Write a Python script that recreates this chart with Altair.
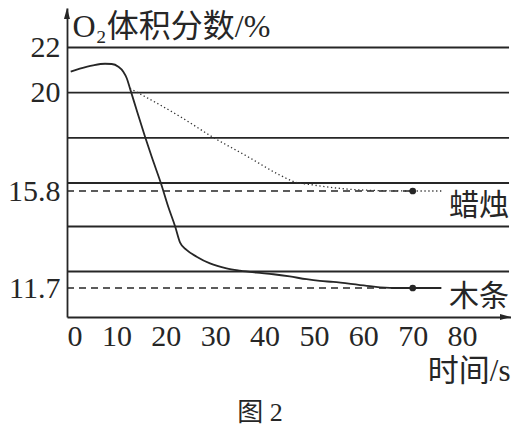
import altair as alt
import pandas as pd

# ---- data ----
wood_t = [0.75, 2.6, 5.3, 7.7, 9.05, 10.4, 11.4, 12.1, 12.75, 14.1, 15.8, 17.15, 19.0, 20.5,
          21.9, 22.9, 24.2, 26.25, 28.95, 32.3, 35.0, 38.4, 41.8, 45.1, 48.5, 51.2, 53.9,
          60.7, 66.1, 70.0, 75.8]
wood_v = [20.93, 21.06, 21.21, 21.28, 21.27, 21.15, 20.93, 20.64, 20.19, 19.23, 18.05, 17.16,
          16.0, 15.0, 14.0, 13.28, 12.96, 12.66, 12.36, 12.14, 12.04, 11.98, 11.95, 11.91,
          11.86, 11.83, 11.81, 11.74, 11.70, 11.70, 11.70]

candle_t = [12.75, 22.9, 29.6, 36.4, 43.1, 45.8, 49.9, 56.6, 63.4, 70.0, 76.1]
candle_v = [20.19, 18.94, 18.02, 17.19, 16.35, 16.07, 15.95, 15.85, 15.81, 15.8, 15.8]

end_names = ["蜡烛", "木条"]
end_t = [70, 70]
end_v = [15.8, 11.7]

grid_values = [12, 14, 16, 18, 20, 22]
y_tick_values = [22, 20, 15.8, 11.7]
x_tick_values = [0, 10, 20, 30, 40, 50, 60, 70, 80]

x_max = 89.9
grid_end = 89.5
y_min = 10
y_top = 23.75

# schematic (not-to-scale) vertical axis, as in the original figure
y_domain = [10, 11.7, 12, 14, 15.8, 16, 22, 23.75]
y_range = [309, 280, 263.5, 218.5, 183, 175, 39.5, 0]

INK = "#262626"
SERIF = "Liberation Serif"
MIXED = "Liberation Serif, Noto Sans CJK SC"
CJK = "Noto Sans CJK SC"

W, H = 444, 309

xs = alt.Scale(domain=[0, x_max], nice=False, zero=False)
ys = alt.Scale(domain=y_domain, range=y_range, nice=False, zero=False)

wood_df = pd.DataFrame({"t": wood_t, "v": wood_v})
candle_df = pd.DataFrame({"t": candle_t, "v": candle_v})
end_df = pd.DataFrame({"name": end_names, "t": end_t, "v": end_v})
grid_df = pd.DataFrame({"v": grid_values, "x0": [0] * len(grid_values),
                        "x1": [grid_end] * len(grid_values)})
dash_df = pd.DataFrame({"v": end_v, "x0": [0, 0], "x1": end_t})
label_df = pd.DataFrame({"name": end_names, "t": [grid_end, grid_end], "v": end_v})

x_axis = alt.Axis(values=x_tick_values, format="d", ticks=False, grid=False,
                  domainColor=INK, domainWidth=1.8,
                  labelFont=SERIF, labelFontSize=30, labelColor=INK, labelPadding=4,
                  title="时间/s", titleFont=MIXED, titleFontSize=31, titleFontWeight="normal",
                  titleColor=INK, titleAnchor="end", titleAlign="right", titleX=W - 1,
                  titleY=54, titleBaseline="middle")
y_axis = alt.Axis(values=y_tick_values, format=".3~g", ticks=False, grid=False,
                  domainColor=INK, domainWidth=1.8,
                  labelFont=SERIF, labelFontSize=30, labelColor=INK, labelPadding=7,
                  title="O₂体积分数/%", titleFont=MIXED, titleFontSize=32,
                  titleFontWeight="normal", titleColor=INK, titleAngle=0,
                  titleAlign="left", titleBaseline="middle", titleX=5, titleY=18)

grid = alt.Chart(grid_df).mark_rule(color=INK, strokeWidth=1.8).encode(
    x=alt.X("x0:Q", scale=xs, axis=x_axis), x2="x1:Q",
    y=alt.Y("v:Q", scale=ys, axis=y_axis))

dashes = alt.Chart(dash_df).mark_rule(color=INK, strokeWidth=1.6, strokeDash=[7, 5]).encode(
    x=alt.X("x0:Q", scale=xs), x2="x1:Q", y=alt.Y("v:Q", scale=ys))

wood = alt.Chart(wood_df).mark_line(color=INK, strokeWidth=1.8, interpolate="monotone").encode(
    x=alt.X("t:Q", scale=xs), y=alt.Y("v:Q", scale=ys))

candle = alt.Chart(candle_df).mark_line(color="#333333", strokeWidth=1.3,
                                         strokeDash=[1.3, 2.6], interpolate="monotone").encode(
    x=alt.X("t:Q", scale=xs), y=alt.Y("v:Q", scale=ys))

dots = alt.Chart(end_df).mark_point(filled=True, color=INK, opacity=1, size=45).encode(
    x=alt.X("t:Q", scale=xs), y=alt.Y("v:Q", scale=ys))

label_candle = alt.Chart(label_df.iloc[[0]]).mark_text(
    font=CJK, fontSize=30, color=INK, align="right", baseline="middle", dy=15).encode(
    x=alt.X("t:Q", scale=xs), y=alt.Y("v:Q", scale=ys), text="name:N")
label_wood = alt.Chart(label_df.iloc[[1]]).mark_text(
    font=CJK, fontSize=30, color=INK, align="right", baseline="middle", dy=9).encode(
    x=alt.X("t:Q", scale=xs), y=alt.Y("v:Q", scale=ys), text="name:N")

arrows_df = pd.DataFrame({"t": [0, x_max], "v": [y_top, y_min]})
arrow_up = alt.Chart(arrows_df.iloc[[0]]).mark_point(
    shape="M0,0L-0.55,2L0.55,2Z", filled=True, color=INK, opacity=1, size=121).encode(
    x=alt.X("t:Q", scale=xs), y=alt.Y("v:Q", scale=ys))
arrow_right = alt.Chart(arrows_df.iloc[[1]]).mark_point(
    shape="M0,0L-2,-0.55L-2,0.55Z", filled=True, color=INK, opacity=1, size=121).encode(
    x=alt.X("t:Q", scale=xs), y=alt.Y("v:Q", scale=ys))

chart = alt.layer(grid, dashes, wood, candle, dots, label_candle, label_wood,
                  arrow_up, arrow_right).properties(
    width=W, height=H,
    title=alt.TitleParams("图 2", orient="bottom", anchor="middle", dx=-29, offset=14,
                          font=MIXED, fontSize=26, fontWeight="normal", color=INK),
    autosize=alt.AutoSizeParams(type="none"),
    padding={"left": 59, "top": 0, "right": 0, "bottom": 113},
    background="white",
).configure_view(stroke=None)

chart.save("out.html", embed_options={"renderer": "svg", "actions": False})
